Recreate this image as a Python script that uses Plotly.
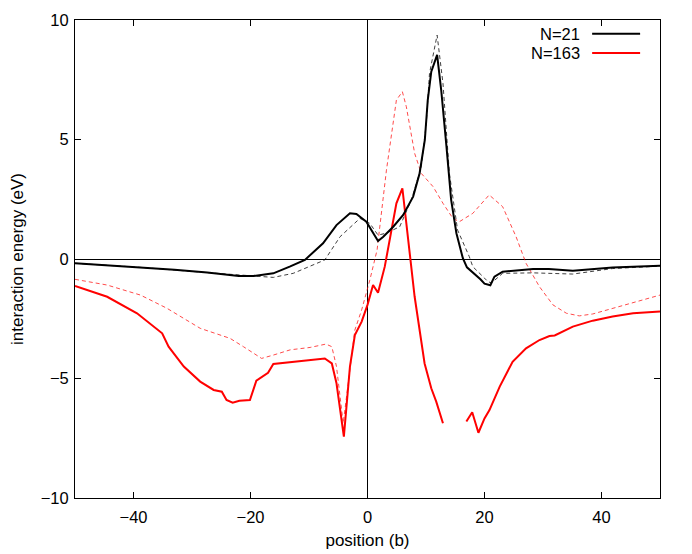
import plotly.graph_objects as go

# N=21, solid curve
n21_x = [-50, -45, -38.8, -33, -27.4, -22, -19.5, -16.1, -13.3, -10.7, -7.6, -5.3, -3.0,
         -1.9, -0.2, 1.8, 2.7, 4.4, 6.1, 7.8, 8.9, 9.8, 10.3, 10.9, 11.9, 12.6, 13.5,
         14.3, 15.2, 16.3, 17.0, 18.0, 18.6, 19.3, 20.0, 21.0, 21.7, 23.1, 28.3, 31.0,
         35.1, 41.9, 50]
n21_y = [-0.18, -0.25, -0.35, -0.45, -0.57, -0.71, -0.71, -0.6, -0.32, -0.04, 0.66, 1.42, 1.91,
         1.88, 1.56, 0.75, 0.93, 1.35, 1.84, 2.61, 3.58, 4.98, 6.65, 7.84, 8.54, 7.07, 4.7,
         2.47, 1.08, 0.03, -0.35, -0.55, -0.67, -0.85, -1.03, -1.1, -0.74, -0.53, -0.42, -0.42,
         -0.49, -0.36, -0.28]

# N=21, dashed curve
n21d_x = [-50, -38.8, -27.4, -19.5, -16.1, -12.7, -9.9, -7.3, -4.7, -1.3, 0.4, 1.8, 3.2,
          5.5, 7.5, 9.2, 10.05, 10.6, 11.9, 12.9, 14.0, 15.4, 17.4, 18.0, 20.0, 20.6, 21.2,
          23.1, 28.3, 35.1, 41.9, 50]
n21d_y = [-0.18, -0.35, -0.57, -0.73, -0.77, -0.6, -0.32, -0.04, 0.93, 1.7, 1.49, 1.0, 1.08,
          1.35, 2.47, 3.86, 5.68, 7.77, 9.37, 7.35, 3.58, 1.21, 0.1, -0.32, -0.8, -0.95, -1.0,
          -0.6, -0.58, -0.63, -0.4, -0.3]

# N=163, solid curve (gap between 12.9 and 16.9)
n163_x = [-50, -44.5, -39.4, -35.1, -34.0, -31.4, -28.6, -26.3, -24.9, -24.1, -23.05, -21.9,
          -20.1, -19.0, -17.0, -16.1, -7.3, -6.1, -5.3, -4.04, -3.0, -2.16, -1.0, 0.0, 0.95,
          1.8, 2.95, 3.5, 4.94, 5.96, 7.1, 8.06, 9.76, 10.9, 11.75, 12.9, None,
          16.9, 17.9, 18.96, 20.0, 20.85, 22.6, 24.8, 27.1, 29.4, 31.1, 32.0, 35.1, 38.5,
          41.9, 45.4, 50]
n163_y = [-1.13, -1.58, -2.27, -3.11, -3.67, -4.5, -5.13, -5.48, -5.55, -5.9, -6.01, -5.93,
          -5.9, -5.09, -4.76, -4.39, -4.16, -4.37, -5.2, -7.43, -4.5, -3.18, -2.62, -1.92, -1.09,
          -1.41, -0.32, 0.38, 2.33, 2.96, 0.38, -1.58, -4.37, -5.41, -5.97, -6.87, None,
          -6.8, -6.41, -7.27, -6.67, -6.32, -5.34, -4.3, -3.74, -3.39, -3.22, -3.2, -2.83, -2.58,
          -2.41, -2.27, -2.2]

# N=163, dashed curve
n163d_x = [-50, -44.5, -38.8, -34.3, -28.6, -23.5, -21.2, -18.1, -16.1, -13.2, -9.8, -7.1,
           -6.1, -5.3, -4.15, -3.3, -2.16, -1.0, 0.4, 1.64, 3.24, 4.94, 5.96, 6.64, 8.06, 9.2,
           11.2, 12.9, 14.6, 15.7, 18.0, 20.8, 23.1, 25.4, 27.1, 29.4, 31.7, 34.0, 36.2,
           38.5, 41.9, 45.9, 50]
n163d_y = [-0.85, -1.09, -1.51, -2.06, -2.9, -3.32, -3.67, -4.16, -4.02, -3.8, -3.7, -3.56,
           -3.67, -4.5, -6.87, -5.2, -2.97, -2.13, -0.88, 0.38, 3.72, 6.65, 7.0, 6.37, 4.42, 3.58,
           3.03, 2.33, 1.7, 1.56, 1.91, 2.68, 2.19, 0.93, -0.18, -1.16, -1.92, -2.27, -2.38,
           -2.3, -2.06, -1.79, -1.51]

legend_labels = ["N=21", "N=163"]
legend_colors = ["#000000", "#ff0000"]

fig = go.Figure()

fig.add_trace(go.Scatter(x=n163d_x, y=n163d_y, mode="lines", showlegend=False,
                         line=dict(color="#ff0000", width=1, dash="4px,3px"), opacity=0.7))
fig.add_trace(go.Scatter(x=n21d_x, y=n21d_y, mode="lines", showlegend=False,
                         line=dict(color="#000000", width=1, dash="4px,3px"), opacity=0.75))
fig.add_trace(go.Scatter(x=n163_x, y=n163_y, mode="lines", name="N=163", showlegend=False,
                         connectgaps=False, line=dict(color="#ff0000", width=2)))
fig.add_trace(go.Scatter(x=n21_x, y=n21_y, mode="lines", name="N=21", showlegend=False,
                         line=dict(color="#000000", width=2)))

# gnuplot-style key: label on the left, line sample on the right
for i, (lab, col) in enumerate(zip(legend_labels, legend_colors)):
    yk = 0.971 - i * 0.040
    fig.add_annotation(x=0.866, y=yk, xref="paper", yref="paper", text=lab,
                       showarrow=False, xanchor="right", yanchor="middle",
                       font=dict(size=16.5, color="black"))
    fig.add_shape(type="line", xref="paper", yref="paper", x0=0.884, x1=0.966,
                  y0=yk, y1=yk, line=dict(color=col, width=2))

axis_common = dict(
    showline=True, linecolor="black", linewidth=1, mirror="ticks",
    ticks="inside", ticklen=6, tickcolor="black", tickwidth=1,
    showgrid=False, zeroline=True, zerolinecolor="black", zerolinewidth=1,
    tickfont=dict(size=16.5, color="black"), automargin=False,
)

fig.update_xaxes(range=[-50, 50], tickvals=[-40, -20, 0, 20, 40], ticklabelstandoff=4,
                 title=dict(text="position (b)", font=dict(size=17, color="black"), standoff=9),
                 **axis_common)
fig.update_yaxes(range=[-10, 10], tickvals=[-10, -5, 0, 5, 10], ticklabelstandoff=2,
                 title=dict(text="interaction energy (eV)", font=dict(size=17, color="black"), standoff=16),
                 **axis_common)

# the page body adds an 8px offset, so the figure is 8px smaller than the window
fig.update_layout(
    width=684, height=546,
    margin=dict(l=67, r=32, t=12, b=56),
    paper_bgcolor="white", plot_bgcolor="white",
    font=dict(family="Liberation Sans, Arial, sans-serif", size=16.5, color="black"),
)

fig.write_html("out.html")
